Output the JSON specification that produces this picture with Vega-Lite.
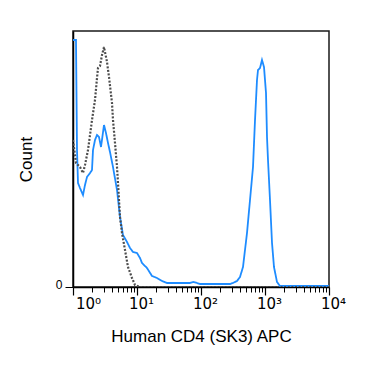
{
  "$schema": "https://vega.github.io/schema/vega-lite/v6.json",
  "width": 256,
  "height": 256,
  "autosize": {"type": "none"},
  "padding": {"left": 73, "top": 31, "right": 46, "bottom": 81},
  "config": {
    "font": "Liberation Sans",
    "view": {"stroke": "#1a1a1a", "strokeWidth": 1.5},
    "axis": {"grid": false, "domainColor": "#000", "domainWidth": 1.5, "tickColor": "#000", "labelColor": "#000", "titleColor": "#000", "titleFontWeight": "normal", "labelFont": "Liberation Sans", "titleFont": "Liberation Sans"}
  },
  "datasets": {
    "hist": [
      {"s": "stained", "x": 1.0, "c": 247}, {"s": "stained", "x": 1.114, "c": 247}, {"s": "stained", "x": 1.155, "c": 137}, {"s": "stained", "x": 1.197, "c": 104}, {"s": "stained", "x": 1.286, "c": 99}, {"s": "stained", "x": 1.433, "c": 92}, {"s": "stained", "x": 1.54, "c": 102}, {"s": "stained", "x": 1.655, "c": 110}, {"s": "stained", "x": 1.844, "c": 114}, {"s": "stained", "x": 1.981, "c": 117}, {"s": "stained", "x": 2.054, "c": 137}, {"s": "stained", "x": 2.207, "c": 147}, {"s": "stained", "x": 2.371, "c": 152}, {"s": "stained", "x": 2.548, "c": 150}, {"s": "stained", "x": 2.738, "c": 140}, {"s": "stained", "x": 3.051, "c": 162}, {"s": "stained", "x": 3.278, "c": 154}, {"s": "stained", "x": 3.523, "c": 144}, {"s": "stained", "x": 3.785, "c": 135}, {"s": "stained", "x": 4.217, "c": 120}, {"s": "stained", "x": 4.87, "c": 97}, {"s": "stained", "x": 5.425, "c": 70}, {"s": "stained", "x": 6.043, "c": 52}, {"s": "stained", "x": 6.978, "c": 45}, {"s": "stained", "x": 7.774, "c": 39}, {"s": "stained", "x": 8.66, "c": 35}, {"s": "stained", "x": 10, "c": 34}, {"s": "stained", "x": 11.14, "c": 29}, {"s": "stained", "x": 11.97, "c": 24}, {"s": "stained", "x": 14.33, "c": 19}, {"s": "stained", "x": 17.15, "c": 11}, {"s": "stained", "x": 20.54, "c": 9}, {"s": "stained", "x": 24.59, "c": 6}, {"s": "stained", "x": 29.43, "c": 4}, {"s": "stained", "x": 42.17, "c": 4}, {"s": "stained", "x": 67.32, "c": 4}, {"s": "stained", "x": 74.99, "c": 5}, {"s": "stained", "x": 86.6, "c": 4}, {"s": "stained", "x": 96.47, "c": 3}, {"s": "stained", "x": 138.2, "c": 3}, {"s": "stained", "x": 283.9, "c": 3}, {"s": "stained", "x": 316.2, "c": 4}, {"s": "stained", "x": 365.2, "c": 6}, {"s": "stained", "x": 406.7, "c": 10}, {"s": "stained", "x": 453.2, "c": 20}, {"s": "stained", "x": 523.3, "c": 54}, {"s": "stained", "x": 583.1, "c": 87}, {"s": "stained", "x": 649.4, "c": 120}, {"s": "stained", "x": 698.1, "c": 167}, {"s": "stained", "x": 749.9, "c": 207}, {"s": "stained", "x": 777.5, "c": 217}, {"s": "stained", "x": 835.4, "c": 219}, {"s": "stained", "x": 897.9, "c": 227}, {"s": "stained", "x": 964.7, "c": 220}, {"s": "stained", "x": 1037, "c": 194}, {"s": "stained", "x": 1075, "c": 150}, {"s": "stained", "x": 1114, "c": 127}, {"s": "stained", "x": 1197, "c": 87}, {"s": "stained", "x": 1287, "c": 44}, {"s": "stained", "x": 1382, "c": 20}, {"s": "stained", "x": 1540, "c": 5}, {"s": "stained", "x": 1715, "c": 1}, {"s": "stained", "x": 3523, "c": 1}, {"s": "stained", "x": 10000, "c": 1},
      {"s": "control", "x": 1.0, "c": 147}, {"s": "control", "x": 1.114, "c": 124}, {"s": "control", "x": 1.286, "c": 120}, {"s": "control", "x": 1.433, "c": 114}, {"s": "control", "x": 1.54, "c": 122}, {"s": "control", "x": 1.715, "c": 137}, {"s": "control", "x": 1.844, "c": 152}, {"s": "control", "x": 1.981, "c": 167}, {"s": "control", "x": 2.207, "c": 187}, {"s": "control", "x": 2.371, "c": 209}, {"s": "control", "x": 2.459, "c": 219}, {"s": "control", "x": 2.641, "c": 221}, {"s": "control", "x": 2.839, "c": 232}, {"s": "control", "x": 3.051, "c": 240}, {"s": "control", "x": 3.162, "c": 235}, {"s": "control", "x": 3.398, "c": 225}, {"s": "control", "x": 3.652, "c": 210}, {"s": "control", "x": 4.068, "c": 184}, {"s": "control", "x": 4.217, "c": 167}, {"s": "control", "x": 4.532, "c": 144}, {"s": "control", "x": 4.87, "c": 120}, {"s": "control", "x": 5.048, "c": 104}, {"s": "control", "x": 5.425, "c": 70}, {"s": "control", "x": 5.83, "c": 54}, {"s": "control", "x": 6.494, "c": 37}, {"s": "control", "x": 7.233, "c": 20}, {"s": "control", "x": 8.354, "c": 9}, {"s": "control", "x": 9.306, "c": 2}, {"s": "control", "x": 11.14, "c": 0}, {"s": "control", "x": 10000, "c": 0}
    ],
    "minor": [{"x": 1}]
  },
  "resolve": {"axis": {"x": "independent"}},
  "layer": [
    {
      "data": {"name": "hist"},
      "mark": {"type": "line", "clip": true},
      "encoding": {
        "x": {
          "field": "x", "type": "quantitative",
          "scale": {"type": "log", "domain": [1, 10000]},
          "axis": {
            "orient": "bottom",
            "values": [1, 10, 100, 1000, 10000],
            "labelExpr": "'10' + ['⁰','¹','²','³','⁴'][round(log(datum.value)/LN10)]",
            "labelFlush": false,
            "labelOverlap": false,
            "tickSize": 8,
            "tickWidth": 1.2,
            "labelFont": "DejaVu Sans",
            "labelFontSize": 15,
            "labelPadding": 1,
            "labelOffset": {"condition": {"test": "datum.value == 1", "value": 15}, "value": 4},
            "title": "Human CD4 (SK3) APC",
            "titleFontSize": 17,
            "titlePadding": 17
          }
        },
        "y": {
          "field": "c", "type": "quantitative",
          "scale": {"domain": [0, 256]},
          "axis": {"values": [0], "title": "Count", "tickSize": 8, "labelFontSize": 12, "labelPadding": 3, "labelOffset": -3, "titleFontSize": 17, "titlePadding": 20}
        },
        "color": {"field": "s", "type": "nominal", "scale": {"domain": ["stained", "control"], "range": ["#1E8CFF", "#4d4d4d"]}, "legend": null},
        "strokeDash": {"field": "s", "type": "nominal", "scale": {"domain": ["stained", "control"], "range": [[1, 0], [2, 1.6]]}, "legend": null},
        "strokeWidth": {"field": "s", "type": "nominal", "scale": {"domain": ["stained", "control"], "range": [1.8, 2.2]}, "legend": null}
      }
    },
    {
      "data": {"name": "minor"},
      "mark": {"type": "point", "opacity": 0},
      "encoding": {
        "x": {
          "field": "x", "type": "quantitative",
          "scale": {"type": "log", "domain": [1, 10000]},
          "axis": {
            "orient": "bottom",
            "values": [2, 3, 4, 5, 6, 7, 8, 9, 20, 30, 40, 50, 60, 70, 80, 90, 200, 300, 400, 500, 600, 700, 800, 900, 2000, 3000, 4000, 5000, 6000, 7000, 8000, 9000],
            "labels": false,
            "domain": false,
            "tickSize": 5,
            "title": null
          }
        }
      }
    }
  ]
}
